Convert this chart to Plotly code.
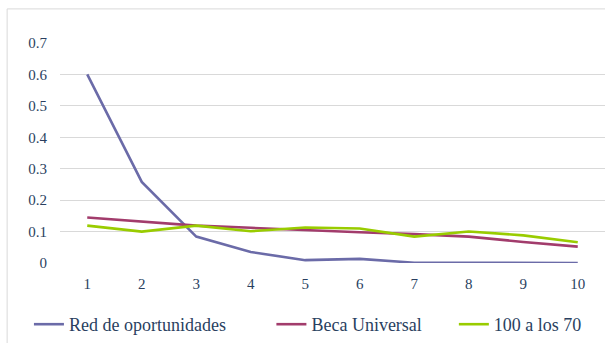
import plotly.graph_objects as go

deciles = [1, 2, 3, 4, 5, 6, 7, 8, 9, 10]
red_oportunidades = [0.600, 0.258, 0.084, 0.035, 0.009, 0.013, 0.001, 0.000, 0.000, 0.000]
beca_universal = [0.145, 0.131, 0.119, 0.112, 0.104, 0.098, 0.092, 0.084, 0.067, 0.052]
cien_a_los_70 = [0.119, 0.100, 0.119, 0.101, 0.113, 0.110, 0.084, 0.100, 0.088, 0.066]

y_ticks = [0, 0.1, 0.2, 0.3, 0.4, 0.5, 0.6, 0.7]
y_tick_labels = ["0", "0.1", "0.2", "0.3", "0.4", "0.5", "0.6", "0.7"]

# trailing non-breaking spaces widen the gap between legend entries
NBSP = "\u00a0"
series = [
    ("Red de oportunidades" + NBSP * 9, red_oportunidades, "#6B6BA8"),
    ("Beca Universal" + NBSP * 6, beca_universal, "#A23C6C"),
    ("100 a los 70", cien_a_los_70, "#99CC00"),
]

SERIF = "Liberation Serif"

fig = go.Figure()
for name, vals, color in series:
    fig.add_trace(go.Scatter(
        x=[str(d) for d in deciles], y=vals, name=name, mode="lines",
        line=dict(color=color, width=2.6),
    ))

fig.update_layout(
    width=605, height=343,
    margin=dict(l=60, r=0, t=43, b=80),
    paper_bgcolor="white", plot_bgcolor="white",
    showlegend=True,
    legend=dict(orientation="h", x=-0.057, y=-0.282, xanchor="left", yanchor="middle",
                font=dict(family=SERIF, size=18),
                bgcolor="rgba(0,0,0,0)"),
    shapes=[dict(type="rect", xref="paper", yref="paper",
                 x0=-0.097, x1=1.05, y0=-0.4, y1=1.155,
                 line=dict(color="#D9D9D9", width=1), layer="below")],
)
fig.update_xaxes(type="category", range=[-0.5, 9.5], showgrid=False, zeroline=False,
                 showline=False, ticks="outside", ticklen=7, tickcolor="rgba(0,0,0,0)",
                 tickfont=dict(family=SERIF, size=15))
fig.update_yaxes(range=[0, 0.7], tickmode="array", tickvals=y_ticks, ticktext=y_tick_labels,
                 showgrid=True, gridcolor="#D9D9D9", gridwidth=1, zeroline=False,
                 showline=False, ticks="outside", ticklen=9, tickcolor="rgba(0,0,0,0)",
                 tickfont=dict(family=SERIF, size=15))

fig.write_html("out.html")
